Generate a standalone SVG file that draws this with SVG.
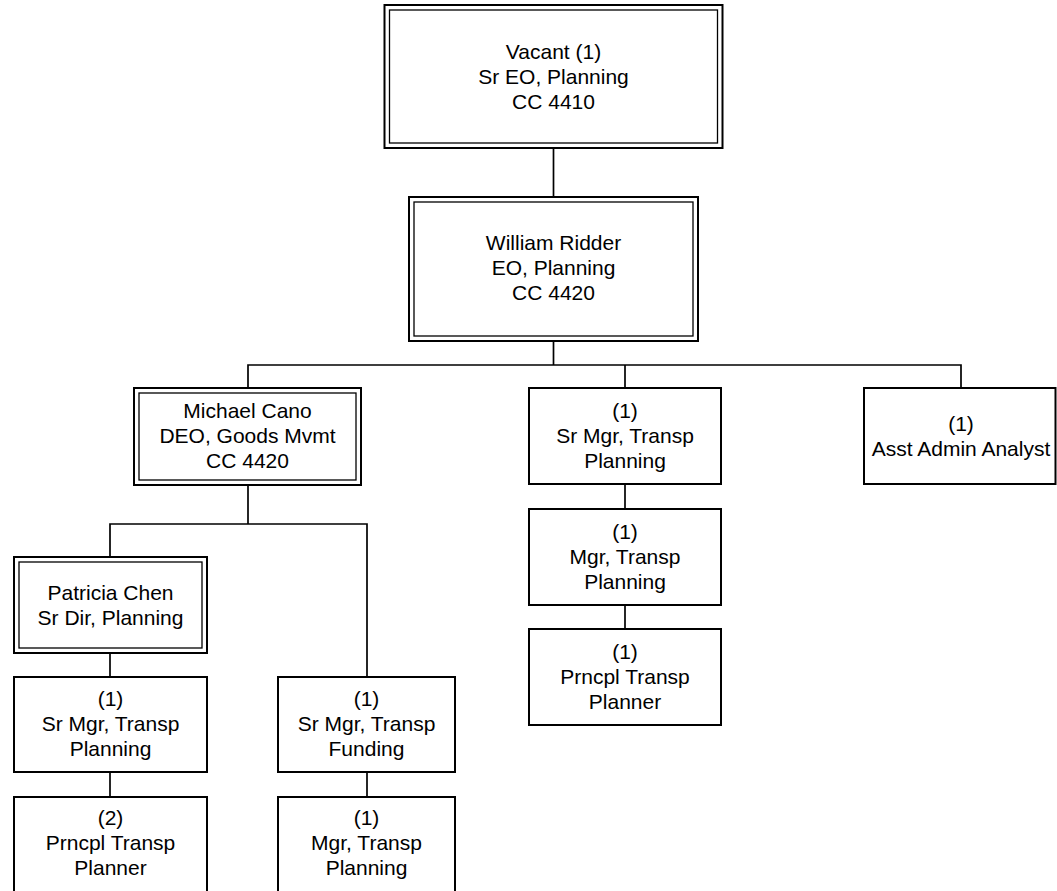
<svg xmlns="http://www.w3.org/2000/svg" width="1057" height="891" viewBox="0 0 1057 891">
<style>
.box{fill:#fff;stroke:#000;stroke-width:2}
.inner{fill:none;stroke:#000;stroke-width:1.3}
.t{font-family:"Liberation Sans",Arial,sans-serif;font-size:21px;text-anchor:middle;fill:#000}
.conn{stroke:#000;stroke-width:1.7;fill:none}
</style>
<rect width="1057" height="891" fill="#fff"/>
<g id="connectors" class="conn">
<path d="M553.5,148 V197"/>
<path d="M553.5,341 V365"/>
<path d="M248,388 V365 H961 V388"/>
<path d="M625,365 V388"/>
<path d="M625,484 V509"/>
<path d="M625,605 V629"/>
<path d="M248,485 V524"/>
<path d="M110,557 V524 H367 V677"/>
<path d="M110,653 V677"/>
<path d="M110,772 V797"/>
<path d="M367,772 V797"/>
</g>
<g id="n-vacant">
<rect class="box" x="384.5" y="5" width="338" height="143"/>
<rect class="inner" x="389.5" y="10" width="328" height="133"/>
<text class="t" x="553.5" y="59">Vacant (1)</text>
<text class="t" x="553.5" y="84">Sr EO, Planning</text>
<text class="t" x="553.5" y="109">CC 4410</text>
</g>
<g id="n-ridder">
<rect class="box" x="409" y="197" width="289" height="144"/>
<rect class="inner" x="414" y="202" width="279" height="134"/>
<text class="t" x="553.5" y="250">William Ridder</text>
<text class="t" x="553.5" y="275">EO, Planning</text>
<text class="t" x="553.5" y="300">CC 4420</text>
</g>
<g id="n-cano">
<rect class="box" x="134" y="388" width="227" height="97"/>
<rect class="inner" x="139" y="393" width="217" height="87"/>
<text class="t" x="247.5" y="418">Michael Cano</text>
<text class="t" x="247.5" y="443">DEO, Goods Mvmt</text>
<text class="t" x="247.5" y="468">CC 4420</text>
</g>
<g id="n-srmgr-mid">
<rect class="box" x="529" y="388" width="192" height="96"/>
<text class="t" x="625" y="418">(1)</text>
<text class="t" x="625" y="443">Sr Mgr, Transp</text>
<text class="t" x="625" y="468">Planning</text>
</g>
<g id="n-asst">
<rect class="box" x="864" y="388" width="191.5" height="96"/>
<text class="t" x="961" y="431">(1)</text>
<text class="t" x="961" y="456">Asst Admin Analyst</text>
</g>
<g id="n-mgr-mid">
<rect class="box" x="529" y="509" width="192" height="96"/>
<text class="t" x="625" y="539">(1)</text>
<text class="t" x="625" y="564">Mgr, Transp</text>
<text class="t" x="625" y="589">Planning</text>
</g>
<g id="n-prncpl-mid">
<rect class="box" x="529" y="629" width="192" height="96"/>
<text class="t" x="625" y="659">(1)</text>
<text class="t" x="625" y="684">Prncpl Transp</text>
<text class="t" x="625" y="709">Planner</text>
</g>
<g id="n-chen">
<rect class="box" x="14" y="557" width="193" height="96"/>
<rect class="inner" x="19" y="562" width="183" height="86"/>
<text class="t" x="110.5" y="600">Patricia Chen</text>
<text class="t" x="110.5" y="625">Sr Dir, Planning</text>
</g>
<g id="n-srmgr-left">
<rect class="box" x="14" y="677" width="193" height="95"/>
<text class="t" x="110.5" y="706">(1)</text>
<text class="t" x="110.5" y="731">Sr Mgr, Transp</text>
<text class="t" x="110.5" y="756">Planning</text>
</g>
<g id="n-prncpl-left">
<rect class="box" x="14" y="797" width="193" height="96"/>
<text class="t" x="110.5" y="825">(2)</text>
<text class="t" x="110.5" y="850">Prncpl Transp</text>
<text class="t" x="110.5" y="875">Planner</text>
</g>
<g id="n-funding">
<rect class="box" x="278" y="677" width="177" height="95"/>
<text class="t" x="366.5" y="706">(1)</text>
<text class="t" x="366.5" y="731">Sr Mgr, Transp</text>
<text class="t" x="366.5" y="756">Funding</text>
</g>
<g id="n-mgr-right">
<rect class="box" x="278" y="797" width="177" height="96"/>
<text class="t" x="366.5" y="825">(1)</text>
<text class="t" x="366.5" y="850">Mgr, Transp</text>
<text class="t" x="366.5" y="875">Planning</text>
</g>
</svg>
